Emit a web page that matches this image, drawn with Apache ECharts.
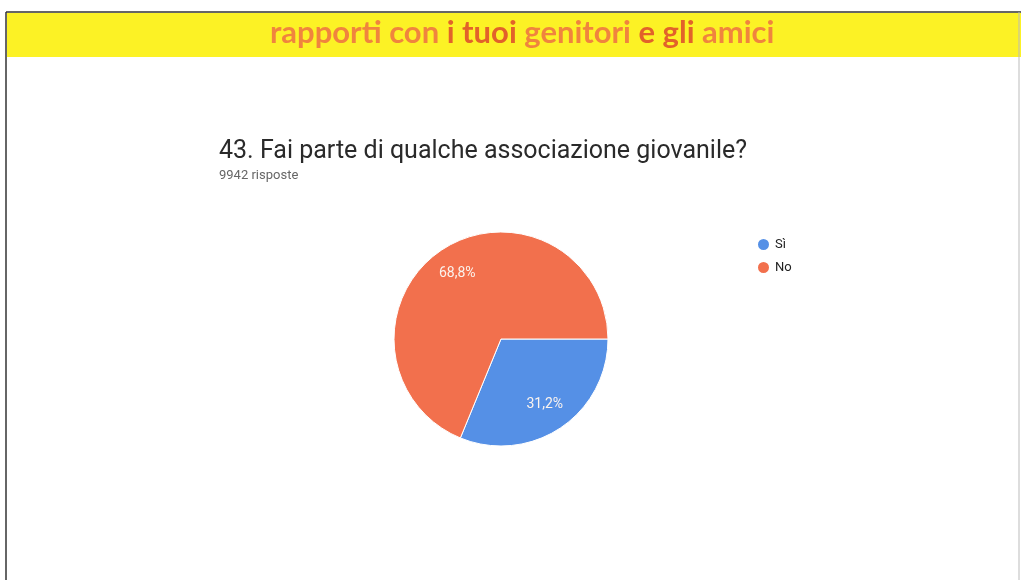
<!DOCTYPE html>
<html><head><meta charset="utf-8">
<script src="https://cdn.jsdelivr.net/npm/echarts@6/dist/echarts.min.js"></script>
<style>html,body{margin:0;padding:0;background:#fff}#c{width:1021px;height:580px}</style>
</head><body><div id="c"></div>
<script>
const categories = ['Sì', 'No'];
const values = [31.2, 68.8];
const labels = ['31,2%', '68,8%'];
const colors = ['#5590e6', '#f2704d'];

const chart = echarts.init(document.getElementById('c'));
chart.setOption({
  animation: false,
  backgroundColor: '#ffffff',
  graphic: [
    { type: 'rect', shape: { x: 7, y: 13, width: 1014, height: 44 }, style: { fill: '#fcf225' }, z: 0 },
    { type: 'line', shape: { x1: 6, y1: 12, x2: 1021, y2: 12 }, style: { stroke: '#333', lineWidth: 1.5 } },
    { type: 'line', shape: { x1: 6, y1: 12, x2: 6, y2: 580 }, style: { stroke: '#333', lineWidth: 1.5 } },
    { type: 'line', shape: { x1: 1019, y1: 12, x2: 1019, y2: 580 }, style: { stroke: '#bbb', lineWidth: 1 } },
    { type: 'text', left: 270, top: 17, z: 5,
      style: { text: '{a|rapporti con }{b|i tuoi}{a| genitori }{b|e gli}{a| amici}',
        rich: {
          a: { fill: '#f0843e', fontFamily: 'Lato', fontWeight: 'bold', fontSize: 31 },
          b: { fill: '#e2622a', fontFamily: 'Lato', fontWeight: 'bold', fontSize: 31 }
        } } }
  ],
  title: {
    text: '43. Fai parte di qualche associazione giovanile?',
    subtext: '9942 risposte',
    left: 214, top: 134, itemGap: 5,
    textStyle: { fontFamily: 'Roboto', fontWeight: 'normal', fontSize: 25, color: '#2a2a2a' },
    subtextStyle: { fontFamily: 'Roboto', fontSize: 13, color: '#666' }
  },
  legend: {
    orient: 'vertical', left: 751, top: 232, itemGap: 8,
    icon: 'circle', itemWidth: 13, itemHeight: 13,
    textStyle: { fontFamily: 'Roboto', fontSize: 13, color: '#222' },
    data: categories
  },
  series: [{
    type: 'pie',
    center: [501, 339], radius: 107,
    startAngle: 0, clockwise: true,
    label: { show: false },
    labelLine: { show: false },
    itemStyle: { borderColor: '#fff', borderWidth: 1 },
    emphasis: { disabled: true },
    data: categories.map((c, i) => ({ name: c, value: values[i], itemStyle: { color: colors[i] } }))
  }, {
    type: 'pie',
    center: [501, 339], radius: [44, 107],
    startAngle: 0, clockwise: true, silent: true,
    label: { show: true, position: 'inside', color: '#fbf3ee', fontFamily: 'Roboto', fontSize: 14,
      formatter: p => labels[p.dataIndex] },
    labelLine: { show: false },
    itemStyle: { color: 'rgba(0,0,0,0)', borderWidth: 0 },
    emphasis: { disabled: true },
    data: categories.map((c, i) => ({ name: c, value: values[i] }))
  }]
});
</script></body></html>
